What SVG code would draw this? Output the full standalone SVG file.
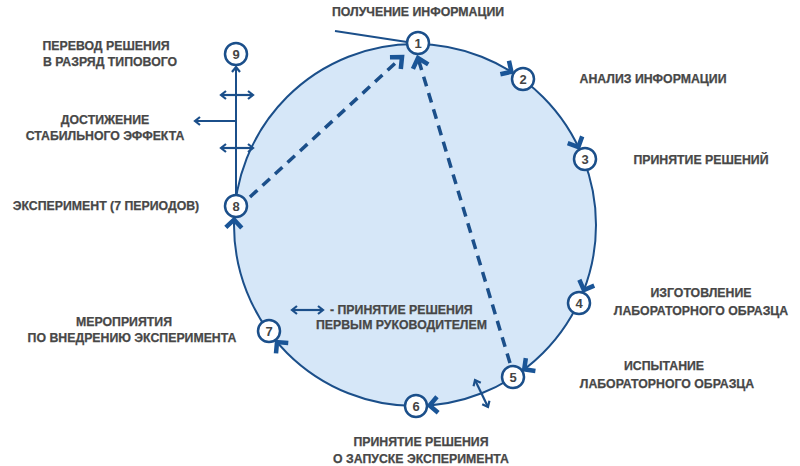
<svg xmlns="http://www.w3.org/2000/svg" xmlns:xlink="http://www.w3.org/1999/xlink" width="800" height="466" viewBox="0 0 800 466">
<style>
.lbl{font-family:"Liberation Sans",Arial,sans-serif;font-weight:bold;font-size:12.3px;fill:#474747;stroke:#474747;stroke-width:0.25px}
.mid{text-anchor:middle}
.num{font-family:"Liberation Sans",Arial,sans-serif;font-weight:bold;font-size:13px;fill:#444;text-anchor:middle}
.node{fill:#fff;stroke:#1b4f8a;stroke-width:2.5}
.ln{fill:none;stroke:#1b4f8a;stroke-width:2}
.dash{fill:none;stroke:#1b4f8a;stroke-width:3.5;stroke-dasharray:10 7}
.chev{fill:none;stroke:#1a5597;stroke-width:4.5;stroke-linejoin:miter}
.dbl{fill:none;stroke:#1b4f8a;stroke-width:2.2}
</style>
<defs>
<marker id="mchev" markerUnits="userSpaceOnUse" viewBox="-14 -12 18 24" refX="0" refY="0" markerWidth="18" markerHeight="24" orient="auto">
<path d="M-9,-8 L0,0 L-9,8" fill="none" stroke="#1a5597" stroke-width="4.5" stroke-dasharray="none"/>
</marker>
<marker id="msmall" markerUnits="userSpaceOnUse" viewBox="-8 -6 10 12" refX="0" refY="0" markerWidth="10" markerHeight="12" orient="auto-start-reverse">
<path d="M-5,-4 L0,0 L-5,4" fill="none" stroke="#1b4f8a" stroke-width="2.2"/>
</marker>
<path id="chev" d="M588,216 L596,224 L604,216"/>
</defs>

<g id="cycle">
<circle cx="415" cy="225" r="181" fill="#d6e7f8" stroke="#1b4f8a" stroke-width="2"/>
</g>

<g id="connectors">
<line class="ln" x1="335" y1="31" x2="407" y2="42"/>
<line class="dash" x1="250" y1="197" x2="402" y2="57" marker-end="url(#mchev)"/>
<line class="dash" x1="510" y1="363" x2="418" y2="58" marker-end="url(#mchev)"/>
<line class="ln" x1="236" y1="195" x2="236" y2="67" marker-end="url(#msmall)"/>
<line class="dbl" x1="221" y1="95" x2="253" y2="95" marker-start="url(#msmall)" marker-end="url(#msmall)"/>
<line class="dbl" x1="221" y1="148" x2="253" y2="148" marker-start="url(#msmall)" marker-end="url(#msmall)"/>
<line class="dbl" x1="236" y1="121" x2="195" y2="121" marker-end="url(#msmall)"/>
<line class="dbl" x1="475" y1="380" x2="488" y2="407" marker-start="url(#msmall)" marker-end="url(#msmall)"/>
<line class="dbl" x1="292" y1="310" x2="323" y2="310" marker-start="url(#msmall)" marker-end="url(#msmall)"/>
<use xlink:href="#chev" class="chev" transform="rotate(-57.5 415 225)"/>
<use xlink:href="#chev" class="chev" transform="rotate(-25.2 415 225)"/>
<use xlink:href="#chev" class="chev" transform="rotate(21.4 415 225)"/>
<use xlink:href="#chev" class="chev" transform="rotate(53.2 415 225)"/>
<use xlink:href="#chev" class="chev" transform="rotate(85.7 415 225)"/>
<use xlink:href="#chev" class="chev" transform="rotate(140 415 225)"/>
<use xlink:href="#chev" class="chev" transform="rotate(182 415 225)"/>
</g>

<g id="n1"><circle class="node" cx="418" cy="43" r="11"/><text class="num" x="418" y="48">1</text></g>
<g id="n2"><circle class="node" cx="523" cy="79" r="11"/><text class="num" x="523" y="84">2</text></g>
<g id="n3"><circle class="node" cx="585" cy="159" r="11"/><text class="num" x="585" y="164">3</text></g>
<g id="n4"><circle class="node" cx="579" cy="303" r="11"/><text class="num" x="579" y="308">4</text></g>
<g id="n5"><circle class="node" cx="513" cy="377" r="11"/><text class="num" x="513" y="382">5</text></g>
<g id="n6"><circle class="node" cx="416" cy="406" r="11"/><text class="num" x="416" y="411">6</text></g>
<g id="n7"><circle class="node" cx="269" cy="331" r="11"/><text class="num" x="269" y="336">7</text></g>
<g id="n8"><circle class="node" cx="236" cy="206" r="11"/><text class="num" x="236" y="211">8</text></g>
<g id="n9"><circle class="node" cx="236" cy="54" r="11"/><text class="num" x="236" y="59">9</text></g>

<g id="labels">
<text class="lbl mid" x="418" y="16">ПОЛУЧЕНИЕ ИНФОРМАЦИИ</text>
<text class="lbl mid" x="653" y="83">АНАЛИЗ ИНФОРМАЦИИ</text>
<text class="lbl mid" x="701" y="164">ПРИНЯТИЕ РЕШЕНИЙ</text>
<text class="lbl mid" x="701" y="297">ИЗГОТОВЛЕНИЕ</text>
<text class="lbl mid" x="701" y="315">ЛАБОРАТОРНОГО ОБРАЗЦА</text>
<text class="lbl mid" x="664" y="370">ИСПЫТАНИЕ</text>
<text class="lbl mid" x="667" y="388">ЛАБОРАТОРНОГО ОБРАЗЦА</text>
<text class="lbl mid" x="421" y="446">ПРИНЯТИЕ РЕШЕНИЯ</text>
<text class="lbl mid" x="421" y="463">О ЗАПУСКЕ ЭКСПЕРИМЕНТА</text>
<text class="lbl mid" x="124" y="326">МЕРОПРИЯТИЯ</text>
<text class="lbl mid" x="132" y="342">ПО ВНЕДРЕНИЮ ЭКСПЕРИМЕНТА</text>
<text class="lbl mid" x="106" y="210">ЭКСПЕРИМЕНТ (7 ПЕРИОДОВ)</text>
<text class="lbl mid" x="105" y="124">ДОСТИЖЕНИЕ</text>
<text class="lbl mid" x="105" y="140">СТАБИЛЬНОГО ЭФФЕКТА</text>
<text class="lbl mid" x="106" y="50">ПЕРЕВОД РЕШЕНИЯ</text>
<text class="lbl mid" x="110" y="66">В РАЗРЯД ТИПОВОГО</text>
<text class="lbl" x="330" y="314">- ПРИНЯТИЕ РЕШЕНИЯ</text>
<text class="lbl" x="316" y="329">ПЕРВЫМ РУКОВОДИТЕЛЕМ</text>
</g>
</svg>
